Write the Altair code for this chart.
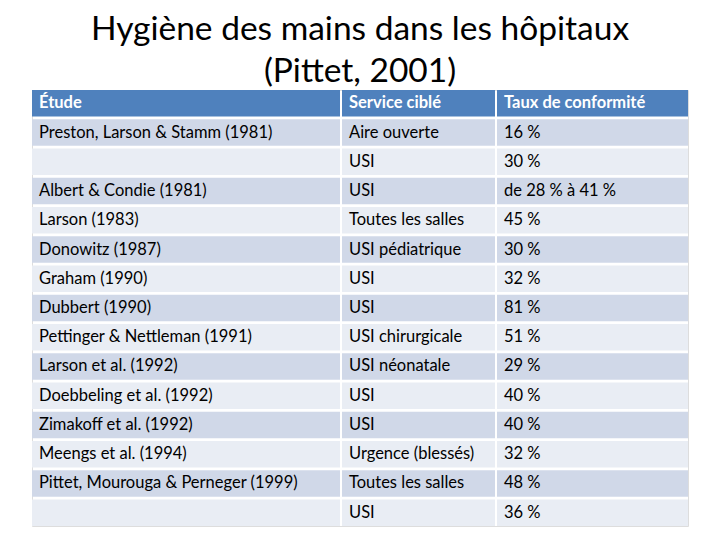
import altair as alt
import pandas as pd

# ---- data ----
title_lines = ["Hygiène des mains dans les hôpitaux", "(Pittet, 2001)"]
headers = ["Étude", "Service ciblé", "Taux de conformité"]
etudes = ["Preston, Larson & Stamm (1981)", "", "Albert & Condie (1981)", "Larson (1983)",
          "Donowitz (1987)", "Graham (1990)", "Dubbert (1990)", "Pettinger & Nettleman (1991)",
          "Larson et al. (1992)", "Doebbeling et al. (1992)", "Zimakoff et al. (1992)",
          "Meengs et al. (1994)", "Pittet, Mourouga & Perneger  (1999)", ""]
services = ["Aire ouverte", "USI", "USI", "Toutes les salles", "USI pédiatrique", "USI", "USI",
            "USI chirurgicale", "USI néonatale", "USI", "USI", "Urgence (blessés)",
            "Toutes les salles", "USI"]
taux = ["16 %", "30 %", "de 28 % à 41 %", "45 %", "30 %", "32 %", "81 %", "51 %", "29 %",
        "40 %", "40 %", "32 %", "48 %", "36 %"]

# ---- layout (table geometry, not data) ----
W, H = 656, 436
col_left = [0, 310, 465]
col_right = [308, 463, 656]
FONT = "Lato"

records = []
for c, h in enumerate(headers):
    records.append({"row": 0, "col": c, "text": h, "kind": "header"})
for r, vals in enumerate(zip(etudes, services, taux), start=1):
    kind = "odd" if r % 2 == 1 else "even"
    for c, v in enumerate(vals):
        records.append({"row": r, "col": c, "text": v, "kind": kind})
df = pd.DataFrame(records)
df["x0"] = df["col"].map(lambda c: col_left[c])
df["x1"] = df["col"].map(lambda c: col_right[c])

rows_order = list(range(len(etudes) + 1))

xs = alt.Scale(domain=[0, W], nice=False, zero=False)
ys = alt.Scale(domain=rows_order, paddingInner=0.09, paddingOuter=0)

base = alt.Chart(df)

cells = base.mark_rect().encode(
    x=alt.X("x0:Q", scale=xs, axis=None),
    x2="x1:Q",
    y=alt.Y("row:O", scale=ys, axis=None),
    color=alt.Color("kind:N", scale=alt.Scale(domain=["header", "odd", "even"],
                                               range=["#4F81BD", "#D0D8E8", "#E9EDF4"]),
                    legend=None),
)

body_text = base.transform_filter("datum.kind != 'header'").mark_text(
    align="left", baseline="middle", dx=7, font=FONT, fontSize=16.5, color="#000000"
).encode(
    x=alt.X("x0:Q", scale=xs, axis=None),
    y=alt.Y("row:O", scale=ys, axis=None),
    text="text:N",
)

head_text = base.transform_filter("datum.kind == 'header'").mark_text(
    align="left", baseline="middle", dx=7, font=FONT, fontSize=16.5, fontWeight="bold",
    color="#FFFFFF"
).encode(
    x=alt.X("x0:Q", scale=xs, axis=None),
    y=alt.Y("row:O", scale=ys, axis=None),
    text="text:N",
)

chart = alt.layer(cells, body_text, head_text).properties(
    width=W,
    height=H,
    title=alt.TitleParams(text=title_lines, font=FONT, fontSize=33.5, fontWeight="normal",
                          color="#000000", lineHeight=42, anchor="middle", offset=1),
    autosize=alt.AutoSizeParams(type="none"),
    padding={"left": 24, "top": 82, "right": 24, "bottom": 6},
).configure_view(stroke=None).configure(background="#FFFFFF")

chart.save("out.html", embed_options={"renderer": "svg", "actions": False})
